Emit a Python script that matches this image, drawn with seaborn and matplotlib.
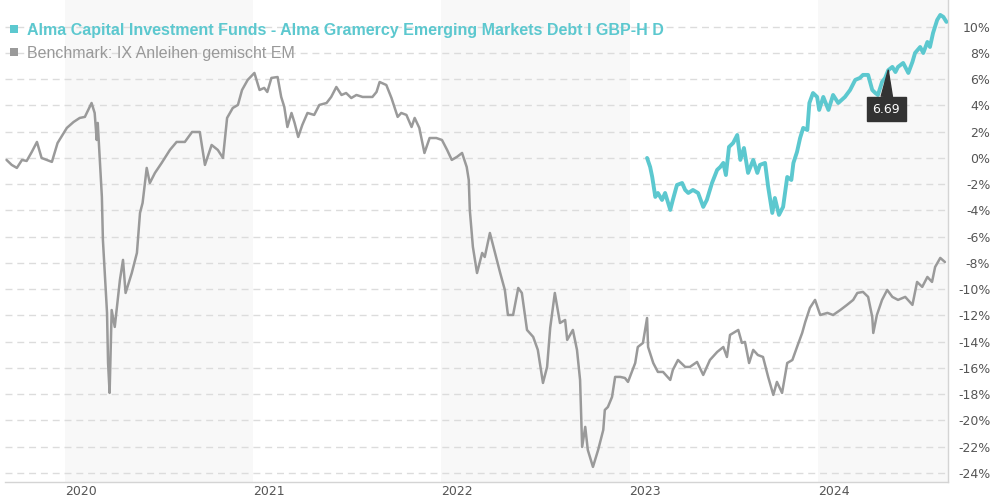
import numpy as np
import pandas as pd
import matplotlib
matplotlib.use("Agg")
import matplotlib.pyplot as plt
import matplotlib.dates as mdates
from matplotlib.patches import Rectangle
import seaborn as sns

# ---------------- data ----------------
fund_name = "Alma Capital Investment Funds - Alma Gramercy Emerging Markets Debt I GBP-H D"
bench_name = "Benchmark: IX Anleihen gemischt EM"

bench_dates = [
    "2019-09-10", "2019-09-20", "2019-09-30", "2019-10-10", "2019-10-19", "2019-10-29",
    "2019-11-08", "2019-11-17", "2019-11-27", "2019-12-07", "2019-12-18", "2020-01-05",
    "2020-01-18", "2020-01-30", "2020-02-09", "2020-02-22", "2020-02-28", "2020-03-03",
    "2020-03-05", "2020-03-13", "2020-03-15", "2020-03-23", "2020-03-25", "2020-03-28",
    "2020-04-01", "2020-04-07", "2020-04-17", "2020-04-23", "2020-04-28", "2020-05-10",
    "2020-05-20", "2020-05-26", "2020-05-31", "2020-06-08", "2020-06-14", "2020-06-24",
    "2020-07-07", "2020-07-23", "2020-08-05", "2020-08-21", "2020-09-04", "2020-09-19",
    "2020-09-29", "2020-10-12", "2020-10-24", "2020-11-03", "2020-11-11", "2020-11-22",
    "2020-12-02", "2020-12-10", "2020-12-21", "2021-01-03", "2021-01-13", "2021-01-22",
    "2021-01-28", "2021-02-05", "2021-02-17", "2021-02-24", "2021-03-02", "2021-03-08",
    "2021-03-16", "2021-03-22", "2021-03-29", "2021-04-06", "2021-04-16", "2021-04-29",
    "2021-05-09", "2021-05-23", "2021-06-01", "2021-06-11", "2021-06-21", "2021-06-30",
    "2021-07-10", "2021-07-20", "2021-08-01", "2021-08-10", "2021-08-20", "2021-08-28",
    "2021-09-03", "2021-09-16", "2021-09-26", "2021-10-08", "2021-10-15", "2021-10-25",
    "2021-11-04", "2021-11-10", "2021-11-19", "2021-11-29", "2021-12-09", "2021-12-22",
    "2022-01-02", "2022-01-12", "2022-01-21", "2022-01-31", "2022-02-10", "2022-02-19",
    "2022-02-23", "2022-02-25", "2022-03-03", "2022-03-11", "2022-03-21", "2022-03-26",
    "2022-04-05", "2022-04-15", "2022-04-25", "2022-05-04", "2022-05-10", "2022-05-20",
    "2022-05-30", "2022-06-06", "2022-06-16", "2022-06-28", "2022-07-07", "2022-07-17",
    "2022-07-25", "2022-07-31", "2022-08-09", "2022-08-19", "2022-08-29", "2022-09-02",
    "2022-09-13", "2022-09-21", "2022-09-27", "2022-10-01", "2022-10-07", "2022-10-12",
    "2022-10-22", "2022-11-01", "2022-11-11", "2022-11-14", "2022-11-20", "2022-11-28",
    "2022-12-04", "2022-12-14", "2022-12-23", "2022-12-29", "2023-01-12", "2023-01-17",
    "2023-01-27", "2023-02-04", "2023-02-06", "2023-02-16", "2023-02-25", "2023-03-07",
    "2023-03-21", "2023-03-26", "2023-04-05", "2023-04-19", "2023-04-28", "2023-05-12",
    "2023-05-24", "2023-06-06", "2023-06-20", "2023-07-02", "2023-07-09", "2023-07-15",
    "2023-07-31", "2023-08-07", "2023-08-13", "2023-08-21", "2023-08-29", "2023-09-07",
    "2023-09-17", "2023-09-27", "2023-10-07", "2023-10-14", "2023-10-24", "2023-11-03",
    "2023-11-13", "2023-11-22", "2023-12-02", "2023-12-08", "2023-12-17", "2023-12-27",
    "2024-01-06", "2024-01-20", "2024-01-31", "2024-02-14", "2024-02-27", "2024-03-10",
    "2024-03-18", "2024-03-29", "2024-04-08", "2024-04-16", "2024-04-18", "2024-04-25",
    "2024-05-05", "2024-05-15", "2024-05-25", "2024-06-05", "2024-06-19", "2024-07-03",
    "2024-07-12", "2024-07-22", "2024-08-01", "2024-08-10", "2024-08-16", "2024-08-26",
    "2024-09-04",
]
bench_values = [
    -0.15, -0.53, -0.76, -0.15, -0.23, 0.46,
    1.22, 0.00, -0.15, -0.30, 1.14, 2.29,
    2.74, 3.05, 3.13, 4.19, 3.43, 1.37,
    2.67, -2.97, -6.25, -11.81, -15.62, -17.91,
    -11.59, -12.88, -9.30, -7.77, -10.29, -8.77,
    -7.24, -4.19, -3.43, -0.76, -1.91, -1.14,
    -0.38, 0.61, 1.22, 1.22, 1.98, 1.98,
    -0.53, 0.99, 0.61, 0.00, 3.05, 3.81,
    4.04, 5.18, 5.95, 6.48, 5.18, 5.34,
    5.03, 6.10, 6.17, 4.65, 3.89, 2.36,
    3.43, 2.67, 1.60, 2.52, 3.43, 3.28,
    4.04, 4.19, 4.65, 5.41, 4.80, 4.95,
    4.57, 4.80, 4.65, 4.65, 4.65, 5.03,
    5.79, 5.56, 4.57, 3.13, 3.43, 3.28,
    2.36, 3.05, 2.29, 0.38, 1.52, 1.52,
    1.37, 0.61, -0.15, 0.08, 0.38, -0.69,
    -1.68, -3.96, -6.78, -8.77, -7.24, -7.55,
    -5.72, -7.24, -8.77, -10.06, -11.97, -11.97,
    -9.91, -10.29, -13.11, -13.64, -14.63, -17.15,
    -15.93, -12.96, -10.29, -12.58, -12.35, -13.87,
    -13.11, -14.63, -16.92, -22.03, -20.50, -22.26,
    -23.55, -22.26, -20.73, -19.21, -18.98, -18.22,
    -16.69, -16.69, -16.77, -17.07, -15.63, -14.41,
    -14.10, -12.20, -14.41, -15.63, -16.31, -16.31,
    -16.92, -16.16, -15.40, -15.93, -15.93, -15.55,
    -16.54, -15.40, -14.79, -14.41, -15.17, -13.49,
    -13.11, -14.10, -14.02, -15.63, -14.63, -15.02,
    -15.17, -16.69, -18.06, -17.07, -17.91, -15.63,
    -15.40, -14.41, -13.34, -12.50, -11.43, -10.82,
    -11.97, -11.81, -11.97, -11.59, -11.20, -10.82,
    -10.29, -10.21, -10.59, -12.12, -13.34, -11.97,
    -10.82, -10.06, -10.59, -10.82, -10.59, -11.20,
    -9.45, -9.83, -9.07, -9.45, -8.31, -7.62,
    -7.93,
]

fund_dates = [
    "2023-02-04", "2023-02-10", "2023-02-14", "2023-02-20", "2023-02-25", "2023-03-05",
    "2023-03-11", "2023-03-21", "2023-03-26", "2023-04-03", "2023-04-13", "2023-04-19",
    "2023-04-25", "2023-05-04", "2023-05-14", "2023-05-24", "2023-05-31", "2023-06-10",
    "2023-06-20", "2023-06-26", "2023-07-02", "2023-07-07", "2023-07-13", "2023-07-21",
    "2023-07-29", "2023-08-04", "2023-08-11", "2023-08-19", "2023-08-29", "2023-09-06",
    "2023-09-11", "2023-09-21", "2023-09-27", "2023-10-05", "2023-10-10", "2023-10-18",
    "2023-10-26", "2023-11-03", "2023-11-11", "2023-11-15", "2023-11-22", "2023-11-28",
    "2023-12-04", "2023-12-12", "2023-12-16", "2023-12-23", "2023-12-31", "2024-01-04",
    "2024-01-12", "2024-01-22", "2024-01-31", "2024-02-10", "2024-02-23", "2024-03-04",
    "2024-03-14", "2024-03-23", "2024-03-29", "2024-04-08", "2024-04-16", "2024-04-22",
    "2024-04-27", "2024-05-05", "2024-05-11", "2024-05-17", "2024-05-25", "2024-05-31",
    "2024-06-05", "2024-06-15", "2024-06-25", "2024-07-03", "2024-07-08", "2024-07-18",
    "2024-07-24", "2024-08-01", "2024-08-06", "2024-08-12", "2024-08-20", "2024-08-26",
    "2024-09-01", "2024-09-07",
]
fund_values = [
    0.00, -0.69, -1.45, -2.97, -2.67, -3.20,
    -2.67, -3.96, -3.20, -2.06, -1.91, -2.44,
    -2.67, -2.44, -2.67, -3.73, -3.20, -1.91,
    -0.91, -0.69, -0.38, -1.30, 0.84, 1.14,
    1.75, -0.15, 0.76, -1.14, -0.15, -1.14,
    -0.53, -0.38, -2.21, -4.19, -3.05, -4.34,
    -3.73, -1.45, -1.68, -0.38, 0.46, 1.52,
    2.29, 2.13, 4.19, 4.95, 4.65, 3.66,
    4.65, 3.66, 4.80, 4.19, 4.65, 5.18,
    5.95, 6.10, 6.33, 6.33, 5.18, 4.95,
    4.80, 5.79, 6.10, 6.69, 6.94, 6.55,
    6.94, 7.24, 6.48, 7.32, 8.00, 8.46,
    8.00, 8.84, 8.46, 9.53, 10.52, 10.90,
    10.75, 10.37,
]

tooltip_date = "2024-05-17"
tooltip_value = 6.69

y_ticks = list(range(-24, 11, 2))
year_ticks = ["2020-01-01", "2021-01-01", "2022-01-01", "2023-01-01", "2024-01-01"]
year_labels = ["2020", "2021", "2022", "2023", "2024"]
shaded_years = [("2020-01-01", "2021-01-01"), ("2022-01-01", "2023-01-01"), ("2024-01-01", "2024-09-10")]

# ---------------- style ----------------
TEAL = "#5cc8cf"
GRAY = "#9a9a9a"
sns.set_style("white")
plt.rcParams["font.family"] = ["DejaVu Sans"]

bench_df = pd.DataFrame({"date": pd.to_datetime(bench_dates), "value": bench_values})
fund_df = pd.DataFrame({"date": pd.to_datetime(fund_dates), "value": fund_values})

fig = plt.figure(figsize=(9.9, 5.0), dpi=100)
ax = fig.add_axes([5 / 990, 18 / 500, 943 / 990, 482 / 500])

for a, b in shaded_years:
    ax.axvspan(pd.Timestamp(a), pd.Timestamp(b), color="#f8f8f8", zorder=0, lw=0)

for t in y_ticks:
    ax.axhline(t, color="#dcdcdc", lw=1.0, ls=(0, (5, 3.5)), zorder=1)

sns.lineplot(data=bench_df, x="date", y="value", ax=ax, color=GRAY, linewidth=1.8,
             sort=False, estimator=None, zorder=3)
sns.lineplot(data=fund_df, x="date", y="value", ax=ax, color=TEAL, linewidth=2.8,
             sort=False, estimator=None, zorder=4)

ax.set_xlim(pd.Timestamp("2019-09-07"), pd.Timestamp("2024-09-10"))
ax.set_ylim(-24.70, 12.04)

# axes / spines
for s in ["left", "top"]:
    ax.spines[s].set_visible(False)
for s in ["right", "bottom"]:
    ax.spines[s].set_color("#d4d4d4")
    ax.spines[s].set_linewidth(1.0)

ax.set_xlabel("")
ax.set_ylabel("")
ax.set_xticks(pd.to_datetime(year_ticks))
ax.set_xticklabels(year_labels, ha="left")
ax.tick_params(axis="x", length=0, pad=2, labelsize=9, labelcolor="#555555")

ax.yaxis.tick_right()
ax.set_yticks(y_ticks)
ax.set_yticklabels([f"{t}%" for t in y_ticks], ha="right")
ax.tick_params(axis="y", length=0, pad=30.5, labelsize=9, labelcolor="#555555")
ax.grid(False)

# tooltip
ax.annotate(f"{tooltip_value:.2f}", xy=(pd.Timestamp(tooltip_date), tooltip_value),
            xytext=(-1.5, -28), textcoords="offset points", ha="center", va="center",
            fontsize=9, color="white",
            bbox=dict(boxstyle="square,pad=0.45", fc="#333333", ec="#333333"),
            arrowprops=dict(arrowstyle="wedge,tail_width=0.9", fc="#333333", ec="#333333",
                            shrinkA=0, shrinkB=0),
            zorder=6)

# legend (top-left)
fig.add_artist(Rectangle((10 / 990, 1 - 33 / 500), 8 / 990, 8 / 500,
                         transform=fig.transFigure, color=TEAL, lw=0))
fig.add_artist(Rectangle((10 / 990, 1 - 56 / 500), 8 / 990, 8 / 500,
                         transform=fig.transFigure, color=GRAY, lw=0))
fig.text(27 / 990, 1 - 35 / 500, fund_name, color=TEAL, fontsize=11.5, fontweight="bold",
         family=["Liberation Sans"], va="baseline")
fig.text(27 / 990, 1 - 58 / 500, bench_name, color="#999999", fontsize=11.5,
         family=["Liberation Sans"], va="baseline")

fig.savefig("out.png", dpi=100)
